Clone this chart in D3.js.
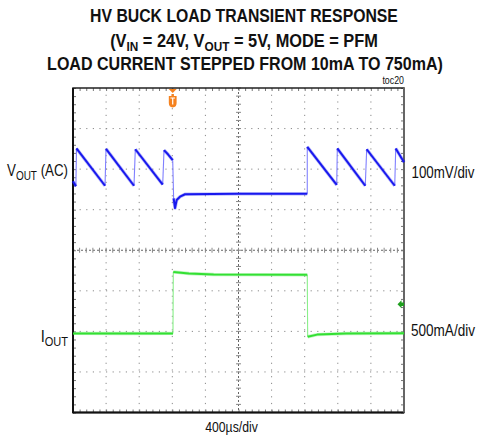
<!DOCTYPE html>
<html>
<head>
<meta charset="utf-8">
<script src="https://cdn.jsdelivr.net/npm/d3@7/dist/d3.min.js"></script>
<style>
  html, body { margin: 0; padding: 0; background: #fff; }
  svg { display: block; }
  text { font-family: "Liberation Sans", Arial, sans-serif; fill: #111; }
</style>
</head>
<body>
<svg id="chart" width="477" height="437"></svg>
<script>
// ---------- data ----------
// time axis in microseconds (400 µs/div, 10 divisions)
const timeDomain = [0, 4000];
const timeMajorTicks = [0, 400, 800, 1200, 1600, 2000, 2400, 2800, 3200, 3600, 4000];
// VOUT (AC) trace, mV (100 mV/div); each segment drawn thick, joined by faint fast edges
const voutSegments = [
  [[0, -30], [35, -42]],
  [[42, 51], [387, -41]],
  [[399, 50], [737, -41]],
  [[753, 49], [1084, -38]],
  [[1100, 47], [1150, 36], [1205, 22]],
  [[1216, -72], [1233, -96], [1253, -76], [1293, -68], [1354, -62], [2000, -61], [2831, -61]],
  [[2831, 55], [3187, -39]],
  [[3194, 51], [3532, -41]],
  [[3549, 49], [3888, -41]],
  [[3900, 51], [4000, 17]]
];
// IOUT trace, mA (500 mA/div)
const ioutSegments = [
  [[0, 10], [600, 9], [1208, 10]],
  [[1212, 768], [1400, 748], [1700, 736], [2831, 732]],
  [[2836, -31], [2950, -5], [3300, 8], [4000, 12]]
];
const voutDomain = [-600, 200];   // mV across the 8 vertical divisions
const ioutDomain = [-965, 3035];  // mA across the 8 vertical divisions
const triggerTime = [1205];
const ioutMarkerLevel = [370];
const titleLines = ["HV BUCK LOAD TRANSIENT RESPONSE", "LOAD CURRENT STEPPED FROM 10mA TO 750mA)"];
const labels = { vout: "100mV/div", iout: "500mA/div", time: "400µs/div", toc: "toc20" };

// ---------- layout ----------
const svg = d3.select("#chart");
const L = 73, R = 404, T = 88, B = 412.5;
const x = d3.scaleLinear().domain(timeDomain).range([L, R]);
const yDiv = d3.scaleLinear().domain([0, 8]).range([T, B]);
const yV = d3.scaleLinear().domain(voutDomain).range([B, T]);
const yI = d3.scaleLinear().domain(ioutDomain).range([B, T]);

const minorX = d3.range(0, 4000.1, 80);
const minorY = d3.range(0, 8.001, 0.2);

// grid (dotted)
const grid = svg.append("g");
grid.selectAll("line.gx").data(timeMajorTicks.slice(1, -1).filter(d => d !== 2000))
  .join("line").attr("x1", d => x(d)).attr("x2", d => x(d)).attr("y1", T).attr("y2", B)
  .attr("stroke", "#8a8a8a").attr("stroke-width", 1).attr("stroke-dasharray", "1.2,5.5");
grid.selectAll("line.gy").data([1, 2, 3, 5, 6, 7])
  .join("line").attr("y1", d => yDiv(d)).attr("y2", d => yDiv(d)).attr("x1", L).attr("x2", R)
  .attr("stroke", "#8a8a8a").attr("stroke-width", 1).attr("stroke-dasharray", "1.2,5.4");

// center crosshair
const cx = x(2000), cy = yDiv(4);
grid.append("line").attr("x1", cx).attr("x2", cx).attr("y1", T).attr("y2", B)
  .attr("stroke", "#666").attr("stroke-width", 1).attr("stroke-dasharray", "2,2");
grid.append("line").attr("y1", cy).attr("y2", cy).attr("x1", L).attr("x2", R)
  .attr("stroke", "#666").attr("stroke-width", 1).attr("stroke-dasharray", "2,2");
grid.selectAll("line.cxt").data(minorX).join("line")
  .attr("x1", d => x(d)).attr("x2", d => x(d)).attr("y1", cy - 2.5).attr("y2", cy + 2.5)
  .attr("stroke", "#888").attr("stroke-width", 1);
grid.selectAll("line.cyt").data(minorY).join("line")
  .attr("y1", d => yDiv(d)).attr("y2", d => yDiv(d)).attr("x1", cx - 2.5).attr("x2", cx + 2.5)
  .attr("stroke", "#888").attr("stroke-width", 1);

// frame minor ticks via axes
function styleAxis(g) {
  g.select(".domain").remove();
  g.selectAll(".tick line").attr("stroke", "#777");
  g.selectAll(".tick text").remove();
}
svg.append("g").attr("transform", `translate(0,${T})`)
  .call(d3.axisBottom(x).tickValues(minorX).tickSize(3).tickFormat("")).call(styleAxis);
svg.append("g").attr("transform", `translate(0,${B})`)
  .call(d3.axisTop(x).tickValues(minorX).tickSize(3).tickFormat("")).call(styleAxis);
svg.append("g").attr("transform", `translate(${L},0)`)
  .call(d3.axisRight(yDiv).tickValues(minorY).tickSize(3).tickFormat("")).call(styleAxis);
svg.append("g").attr("transform", `translate(${R},0)`)
  .call(d3.axisLeft(yDiv).tickValues(minorY).tickSize(3).tickFormat("")).call(styleAxis);

// frame
svg.append("rect").attr("x", L).attr("y", T).attr("width", R - L).attr("height", B - T)
  .attr("fill", "none").attr("stroke", "#222").attr("stroke-width", 1.5);
svg.append("line").attr("x1", L).attr("x2", L).attr("y1", T).attr("y2", B + 0.75)
  .attr("stroke", "#111").attr("stroke-width", 2);
svg.append("line").attr("x1", L).attr("x2", R).attr("y1", B).attr("y2", B)
  .attr("stroke", "#111").attr("stroke-width", 2);
svg.append("line").attr("x1", R).attr("x2", R).attr("y1", T).attr("y2", B)
  .attr("stroke", "#666").attr("stroke-width", 2);

// traces
function drawTrace(segs, yScale, color, edgeColor) {
  const line = d3.line().x(d => x(d[0])).y(d => yScale(d[1]));
  const g = svg.append("g");
  const edges = [];
  for (let i = 0; i < segs.length - 1; i++) {
    const a = segs[i][segs[i].length - 1], b = segs[i + 1][0];
    edges.push([a, b]);
  }
  g.selectAll("path.edge").data(edges).join("path")
    .attr("d", line).attr("fill", "none").attr("stroke", edgeColor).attr("stroke-width", 1.1);
  g.selectAll("path.halo").data(segs).join("path")
    .attr("d", line).attr("fill", "none").attr("stroke", color).attr("stroke-opacity", 0.3)
    .attr("stroke-width", 3.4).attr("stroke-linejoin", "round");
  g.selectAll("path.main").data(segs).join("path")
    .attr("d", line).attr("fill", "none").attr("stroke", color)
    .attr("stroke-width", 2).attr("stroke-linejoin", "round");
}
drawTrace(voutSegments, yV, "#1818ee", "#8080ff");
drawTrace(ioutSegments, yI, "#33e033", "#8af08a");

// trigger marker
const trig = svg.append("g").selectAll("g").data(triggerTime).join("g")
  .attr("transform", d => `translate(${x(d)},0)`);
trig.append("path").attr("d", "M-4,89 L4,89 L0,93 Z").attr("fill", "#f5821f");
trig.append("path").attr("d", "M-1.2,94 L1.2,94 L1.2,96 L3.9,96 L3.9,103 Q3.9,107 0,107.5 Q-3.9,107 -3.9,103 L-3.9,96 L-1.2,96 Z")
  .attr("fill", "#f5821f");
trig.append("path").attr("d", "M-2.3,98 L2.3,98 M0,98 L0,104.5").attr("stroke", "#fff").attr("stroke-width", 1.2);

// IOUT ground marker
svg.append("g").selectAll("path").data(ioutMarkerLevel).join("path")
  .attr("transform", d => `translate(${R - 1},${yI(d)})`)
  .attr("d", "M-5.5,0 L-1.5,-4 L-1.5,-1.8 L1,-1.8 L1,1.8 L-1.5,1.8 L-1.5,4 Z")
  .attr("fill", "#1f9e1f");

// ---------- text ----------
function fitted(gx, gy, anchor, width, build, opts = {}) {
  const g = svg.append("g");
  const t = g.append("text").attr("x", 0).attr("y", 0).attr("text-anchor", anchor)
    .style("font-size", (opts.size || 16) + "px").style("font-weight", opts.bold ? "bold" : "normal");
  build(t);
  const w = t.node().getBBox().width;
  const k = width / w;
  g.attr("transform", `translate(${gx},${gy}) scale(${k},1)`);
  return g;
}

// title
fitted(244, 21.7, "middle", 308, t => t.text(titleLines[0]), { size: 18, bold: true });
fitted(244, 46.7, "middle", 268, t => {
  t.append("tspan").text("(V");
  t.append("tspan").text("IN").style("font-size", "13px").attr("dy", 4);
  t.append("tspan").text(" = 24V, V").attr("dy", -4);
  t.append("tspan").text("OUT").style("font-size", "13px").attr("dy", 4);
  t.append("tspan").text(" = 5V, MODE = PFM").attr("dy", -4);
}, { size: 18, bold: true });
fitted(245, 70, "middle", 396, t => t.text(titleLines[1]), { size: 18, bold: true });

fitted(404, 84, "end", 22, t => t.text(labels.toc), { size: 10 });

// channel labels
fitted(68, 176, "end", 61, t => {
  t.append("tspan").text("V");
  t.append("tspan").text("OUT").style("font-size", "12px").attr("dy", 3.5);
  t.append("tspan").text(" (AC)").attr("dy", -3.5);
}, { size: 16 });
fitted(68, 342, "end", 28, t => {
  t.append("tspan").text("I");
  t.append("tspan").text("OUT").style("font-size", "12px").attr("dy", 3.5);
}, { size: 16 });
fitted(411.5, 177.5, "start", 63, t => t.text(labels.vout), { size: 16 });
fitted(411, 336, "start", 64, t => t.text(labels.iout), { size: 16 });
fitted(231.5, 432, "middle", 53, t => t.text(labels.time), { size: 15 });
</script>
</body>
</html>
